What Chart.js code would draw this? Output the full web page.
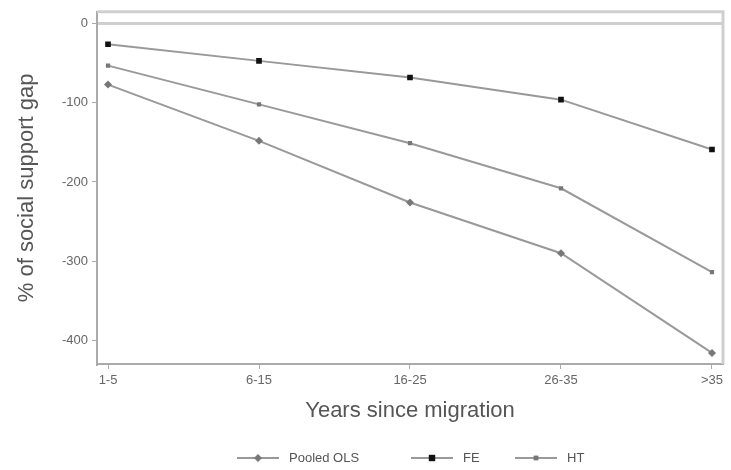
<!DOCTYPE html>
<html><head><meta charset="utf-8">
<script src="https://cdn.jsdelivr.net/npm/chart.js@4"></script>
<style>html,body{margin:0;padding:0;background:#fff}#wrap{width:731px;height:470px}</style>
</head><body><div id="wrap"><canvas id="c" width="731" height="470"></canvas></div>
<script>
const categories = ['1-5','6-15','16-25','26-35','>35'];
const pooledOLS = [-77,-148,-226,-290,-416];
const fe = [-26,-47,-68,-96,-159];
const ht = [-53,-102,-151,-208,-314];
const yTicks = [-400,-300,-200,-100,0];
const seriesNames = ['Pooled OLS','FE','HT'];

const toPts = arr => arr.map((v,i)=>({x:i,y:v}));
const FONT = "'Liberation Sans', Arial, sans-serif";

const frame = {
  id:'frame',
  beforeDatasetsDraw(chart){
    const {ctx, chartArea:a} = chart;
    ctx.save();
    ctx.strokeStyle = '#cfcfcf'; ctx.lineWidth = 3;
    ctx.beginPath(); ctx.moveTo(a.left, a.top); ctx.lineTo(a.right, a.top); ctx.lineTo(a.right, a.bottom); ctx.stroke();
    ctx.restore();
  },
  afterDraw(chart){
    const {ctx} = chart;
    const items = [
      {x0:237, text:'Pooled OLS', ds:0},
      {x0:411, text:'FE', ds:1},
      {x0:515, text:'HT', ds:2}
    ];
    const y = 458;
    ctx.save();
    items.forEach(it=>{
      const d = chart.data.datasets[it.ds];
      ctx.strokeStyle = '#999'; ctx.lineWidth = 2;
      ctx.beginPath(); ctx.moveTo(it.x0, y); ctx.lineTo(it.x0+42, y); ctx.stroke();
      ctx.fillStyle = d.pointBackgroundColor;
      const r = d.pointRadius, cx = it.x0+21;
      if (d.pointStyle==='rectRot'){ctx.beginPath();ctx.moveTo(cx,y-r);ctx.lineTo(cx+r,y);ctx.lineTo(cx,y+r);ctx.lineTo(cx-r,y);ctx.closePath();ctx.fill();}
      else ctx.fillRect(cx-r*0.8, y-r*0.8, r*1.6, r*1.6);
      ctx.fillStyle = '#555'; ctx.font = '13px '+FONT; ctx.textBaseline='middle';
      ctx.fillText(it.text, it.x0+52, y);
    });
    ctx.restore();
  }
};

new Chart(document.getElementById('c'), {
  type:'line',
  data:{datasets:[
    {label:seriesNames[0], data:toPts(pooledOLS), borderColor:'#999', borderWidth:2, pointStyle:'rectRot', pointRadius:4, pointBackgroundColor:'#777', pointBorderWidth:0},
    {label:seriesNames[1], data:toPts(fe), borderColor:'#999', borderWidth:2, pointStyle:'rect', pointRadius:4, pointBackgroundColor:'#111', pointBorderWidth:0},
    {label:seriesNames[2], data:toPts(ht), borderColor:'#999', borderWidth:2, pointStyle:'rect', pointRadius:3, pointBackgroundColor:'#777', pointBorderWidth:0}
  ]},
  options:{
    responsive:false, animation:false, devicePixelRatio:1,
    layout:{padding:{top:11,right:8,bottom:46,left:0}},
    plugins:{legend:{display:false}, tooltip:{enabled:false}},
    scales:{
      x:{type:'linear', min:-0.073, max:4.073,
        afterBuildTicks:s=>{s.ticks=categories.map((c,i)=>({value:i}));},
        afterFit:s=>{s.height=60;},
        ticks:{callback:(v)=>categories[v], color:'#666', font:{size:13,family:FONT}, padding:4, maxRotation:0, autoSkip:false},
        grid:{drawOnChartArea:false, tickLength:5, tickColor:'#aaa', tickWidth:1},
        border:{color:'#aaa', width:2},
        title:{display:true, text:'Years since migration', color:'#555', font:{size:22,family:FONT}, padding:{top:2,bottom:0}}
      },
      y:{type:'linear', min:-430, max:15,
        afterBuildTicks:s=>{s.ticks=yTicks.map(v=>({value:v}));},
        afterFit:s=>{s.width=97;},
        ticks:{color:'#666', font:{size:13,family:FONT}, padding:4},
        grid:{color:c=>c.tick && c.tick.value===0 ? '#cfcfcf':'rgba(0,0,0,0)', lineWidth:3, tickLength:5, tickColor:'#aaa', tickWidth:1},
        border:{color:'#aaa', width:2},
        title:{display:true, text:'% of social support gap', color:'#555', font:{size:22,family:FONT}, padding:{top:14,bottom:0}}
      }
    }
  },
  plugins:[frame]
});
</script></body></html>
